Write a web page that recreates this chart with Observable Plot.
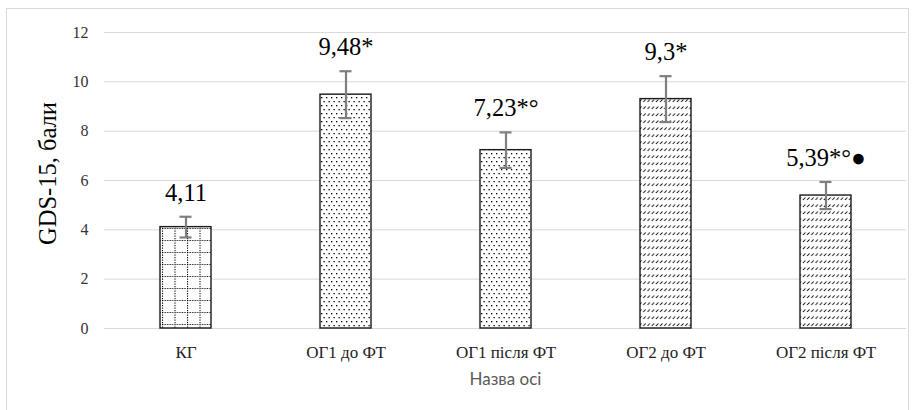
<!DOCTYPE html>
<html>
<head>
<meta charset="utf-8">
<script src="https://cdn.jsdelivr.net/npm/d3@7"></script>
<script src="https://cdn.jsdelivr.net/npm/@observablehq/plot@0.6"></script>
<style>
  html, body { margin: 0; padding: 0; background: #fff; }
</style>
</head>
<body>
<div id="chart"></div>
<script>
const categories = ["КГ", "ОГ1 до ФТ", "ОГ1 після ФТ", "ОГ2 до ФТ", "ОГ2 після ФТ"];
const values = [4.11, 9.48, 7.23, 9.3, 5.39];
const errors = [0.42, 0.95, 0.72, 0.93, 0.55];
const labels = ["4,11", "9,48*", "7,23*°", "9,3*", "5,39*°●"];
const patterns = ["grid", "dots", "dots", "hatch", "hatch"];
const yTicks = [0, 2, 4, 6, 8, 10, 12];
const yTitle = "GDS-15, бали";
const xTitle = "Назва осі";

const data = categories.map((c, i) => ({
  cat: c, value: values[i], err: errors[i], label: labels[i], pat: patterns[i]
}));

const serif = "Liberation Serif";

const chart = Plot.plot({
  width: 916,
  height: 410,
  marginLeft: 104,
  marginRight: 10,
  marginTop: 32,
  marginBottom: 82,
  style: { background: "#fff", overflow: "visible" },
  x: { domain: categories, paddingInner: 0.682, paddingOuter: 0.341, label: null },
  y: { domain: [0, 12], label: null },
  marks: [
    Plot.gridY(yTicks, { stroke: "#d9d9d9", strokeOpacity: 1, strokeWidth: 1 }),
    Plot.axisY({ ticks: yTicks, tickSize: 0, tickPadding: 16, fontSize: 16, fontFamily: serif, fill: "#333", label: null }),
    Plot.axisX({ tickSize: 0, tickPadding: 17, fontSize: 17, fontFamily: serif, fill: "#222", label: null }),
    Plot.barY(data, { x: "cat", y: "value", fill: d => `url(#pat-${d.pat})`, stroke: "#1a1a1a", strokeWidth: 1.4 }),
    Plot.ruleX(data, { x: "cat", y1: d => d.value - d.err, y2: d => d.value + d.err, stroke: "#7f7f7f", strokeWidth: 2.2 }),
    Plot.tickY(data, { x: "cat", y: d => d.value + d.err, stroke: "#7f7f7f", strokeWidth: 2.2, insetLeft: 19.5, insetRight: 19.5 }),
    Plot.tickY(data, { x: "cat", y: d => d.value - d.err, stroke: "#7f7f7f", strokeWidth: 2.2, insetLeft: 19.5, insetRight: 19.5 }),
    Plot.text(data, { x: "cat", y: d => d.value + d.err, text: "label", dy: -16, lineAnchor: "bottom", fontSize: 24.5, fontFamily: serif, fill: "#000" }),
    Plot.text([yTitle], { frameAnchor: "left", rotate: -90, dx: -56, dy: -7, fontSize: 24.5, fontFamily: serif, fill: "#000", textAnchor: "middle", lineAnchor: "middle" }),
    Plot.text([xTitle], { frameAnchor: "bottom", dy: 51, fontSize: 17, fontFamily: "Lato", fill: "#595959", lineAnchor: "middle" })
  ]
});

const svg = d3.select(chart);
svg.selectAll("text").each(function () {
  const sans = this.textContent === xTitle;
  this.style.setProperty("font-family", sans ? "Lato, 'Open Sans', sans-serif" : "'Liberation Serif', serif", "important");
});

const defs = svg.insert("defs", ":first-child");

const g = defs.append("pattern").attr("id", "pat-grid").attr("patternUnits", "userSpaceOnUse")
  .attr("width", 12.5).attr("height", 12).attr("x", 162).attr("y", 0);
g.append("rect").attr("width", 12.5).attr("height", 12).attr("fill", "#fff");
g.append("line").attr("x1", 0.5).attr("x2", 0.5).attr("y1", 0).attr("y2", 12)
  .attr("stroke", "#000").attr("stroke-width", 1.1).attr("stroke-dasharray", "1.2,1.3");
g.append("line").attr("x1", 0).attr("x2", 12.5).attr("y1", 0.5).attr("y2", 0.5)
  .attr("stroke", "#000").attr("stroke-width", 1.1).attr("stroke-dasharray", "1.2,1.3");

const p = defs.append("pattern").attr("id", "pat-dots").attr("patternUnits", "userSpaceOnUse")
  .attr("width", 5).attr("height", 8);
p.append("rect").attr("width", 5).attr("height", 8).attr("fill", "#fff");
p.append("rect").attr("x", 1).attr("y", 1).attr("width", 1.3).attr("height", 1.3).attr("fill", "#000");
p.append("rect").attr("x", 3.5).attr("y", 5).attr("width", 1.3).attr("height", 1.3).attr("fill", "#000");

const h = defs.append("pattern").attr("id", "pat-hatch").attr("patternUnits", "userSpaceOnUse")
  .attr("width", 4.2).attr("height", 7);
h.append("rect").attr("width", 4.2).attr("height", 7).attr("fill", "#fff");
h.append("path").attr("d", "M0.7,4 L3.1,1.5").attr("stroke", "#000").attr("stroke-width", 1);

svg.append("rect").attr("x", 6.5).attr("y", 8.5).attr("width", 902).attr("height", 410)
  .attr("fill", "none").attr("stroke", "#d9d9d9").attr("stroke-width", 1);

document.getElementById("chart").appendChild(chart);
</script>
</body>
</html>
